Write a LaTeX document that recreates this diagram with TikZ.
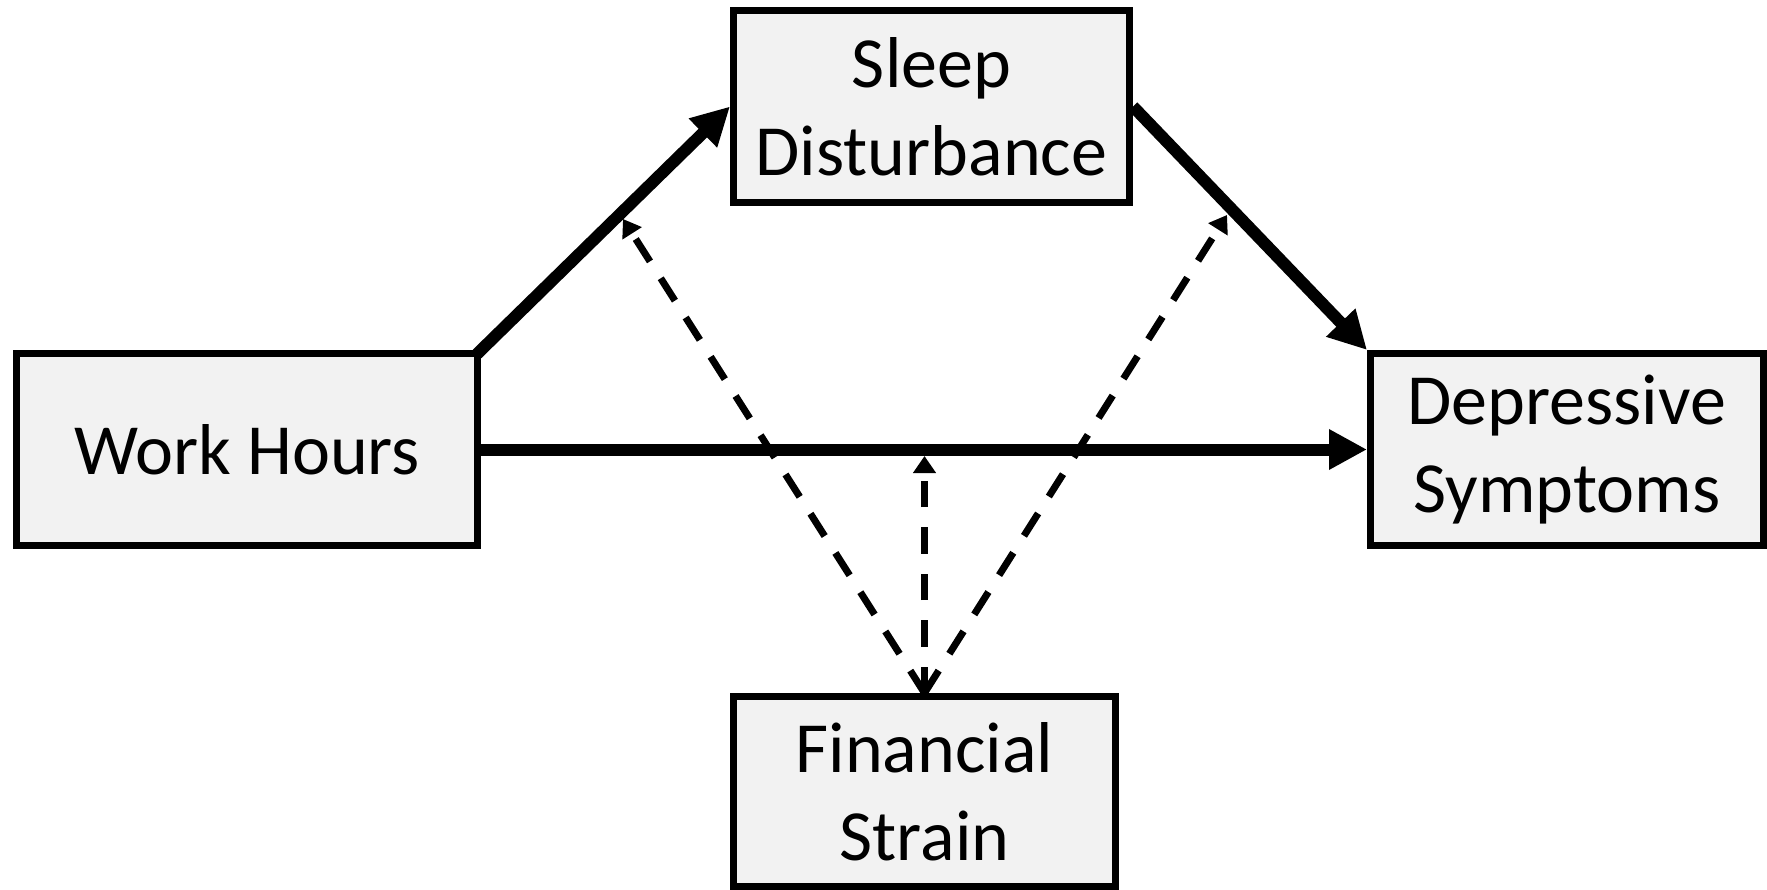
\documentclass[tikz,border=0pt]{standalone}
\usepackage{fontspec}
\setmainfont{Carlito}
\usetikzlibrary{arrows.meta}
\definecolor{boxfill}{HTML}{F2F2F2}
\begin{document}
\begin{tikzpicture}[x=1pt,y=-1pt,
  box/.style={draw=black, line width=7pt, fill=boxfill, align=center, inner sep=0pt,
    font=\fontsize{72}{88}\selectfont},
  solidarrow/.style={line width=12pt, -{Triangle[length=38pt,width=38pt]}},
  dasharrow/.style={line width=7pt, dash pattern=on 26.5pt off 20pt, -{Triangle[length=17pt,width=22pt]}}]
\useasboundingbox (0,0) rectangle (1767,890);
\node[box, minimum width=461pt, minimum height=192pt] (wh) at (247,449.5) {Work Hours};
\node[box, minimum width=392.5pt, minimum height=192pt] (dep) at (1566.75,449.5) {Depressive\\Symptoms};
\node[box, minimum width=396pt, minimum height=192pt] (sleep) at (931.5,106.5) {Sleep\\Disturbance};
\node[box, minimum width=382pt, minimum height=190pt] (fin) at (924.5,791.5) {Financial\\Strain};
\coordinate (c1) at ([shift={(-4,4)}]wh.north east);
\coordinate (t1) at (623,219);
\coordinate (t2) at (1227,215);
\coordinate (t3) at (924.5,456);
\draw[solidarrow] (c1) -- (sleep.west);
\draw[solidarrow] (sleep.east) -- (dep.north west);
\draw[solidarrow] (wh.east) -- (dep.west);
\draw[dasharrow] (fin.north) -- (t1);
\draw[dasharrow] (fin.north) -- (t2);
\draw[dasharrow] (fin.north) -- (t3);
\end{tikzpicture}
\end{document}
